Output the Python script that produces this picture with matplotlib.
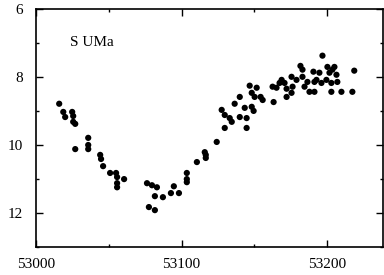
import matplotlib
matplotlib.use("Agg")
import matplotlib.pyplot as plt
from matplotlib.ticker import MultipleLocator

jd_offset = [
    16.1, 18.9, 20.2, 25.0, 25.7, 25.7, 27.1, 27.1, 36.0, 36.0, 36.0,
    44.2, 44.8, 46.2, 51.0, 55.1, 55.8, 55.8, 55.8, 60.6,
    76.3, 79.7, 83.1, 81.7, 87.2, 92.7, 94.7, 98.2, 77.6, 81.7,
    103.6, 103.6, 103.6, 110.5, 115.9, 116.6, 116.6, 124.1,
    127.5, 129.6, 129.6, 133.0, 134.4, 136.4, 139.9, 139.9, 144.6, 144.6,
    143.3, 146.7, 148.1, 148.1, 149.4, 150.1, 151.5, 154.2, 155.6,
    162.4, 163.1, 165.1, 167.2, 170.6, 172.0, 172.0, 168.6, 175.4, 176.1,
    175.4, 178.8, 181.5, 182.9, 182.9, 184.3, 186.3, 187.7, 190.4, 191.1,
    191.1, 192.5, 194.5, 195.9, 196.6, 200.0, 201.4, 202.7, 202.7, 204.8,
    206.2, 206.8, 209.6, 217.1, 218.4, 199.3, 203.4,
]
magnitude = [
    8.79, 9.03, 9.18, 9.03, 9.15, 9.32, 9.38, 10.12, 9.79, 10.0, 10.12,
    10.29, 10.41, 10.62, 10.82, 10.82, 10.94, 11.12, 11.24, 11.0,
    11.12, 11.18, 11.24, 11.5, 11.53, 11.41, 11.21, 11.41, 11.82, 11.91,
    10.82, 11.0, 11.09, 10.5, 10.21, 10.29, 10.38, 9.91,
    8.97, 9.12, 9.5, 9.21, 9.32, 8.79, 8.59, 9.18, 9.21, 9.5,
    8.91, 8.26, 8.47, 8.88, 9.0, 8.59, 8.32, 8.59, 8.68,
    8.29, 8.74, 8.32, 8.18, 8.18, 8.35, 8.59, 8.09, 8.0, 8.29,
    8.47, 8.09, 7.68, 7.79, 8.0, 8.29, 8.15, 8.44, 7.85, 8.15,
    8.44, 8.09, 7.88, 8.18, 7.38, 7.71, 7.88, 8.18, 8.44, 7.71,
    7.94, 8.15, 8.44, 8.44, 7.82, 8.09, 7.79,
]
jd = [53000 + d for d in jd_offset]
x_ticks = [53000, 53100, 53200]
y_ticks = [6, 8, 10, 12]
star_label = "S UMa"

plt.rcParams["font.family"] = ["Liberation Serif", "DejaVu Serif"]

fig = plt.figure(figsize=(3.84, 2.75), dpi=100)
ax = fig.add_axes([0.093, 0.1007, 0.904, 0.868])
ax.scatter(jd, magnitude, s=20, color="black", edgecolors="none", zorder=3)

ax.set_xlim(53000, 53238)
ax.set_ylim(13, 6)
ax.set_xticks(x_ticks)
ax.set_yticks(y_ticks)
ax.xaxis.set_minor_locator(MultipleLocator(50))
ax.yaxis.set_minor_locator(MultipleLocator(1))
ax.tick_params(which="both", direction="in", top=True, right=True,
               labelsize=11, width=1.0)
ax.tick_params(which="major", length=5)
ax.tick_params(which="minor", length=2.5)
ax.tick_params(axis="x", pad=8)
ax.tick_params(axis="y", pad=9)
for sp in ax.spines.values():
    sp.set_linewidth(1.2)

ax.text(0.1, 0.86, star_label, transform=ax.transAxes, fontsize=11,
        ha="left", va="center")

fig.savefig("out.png", dpi=100)
